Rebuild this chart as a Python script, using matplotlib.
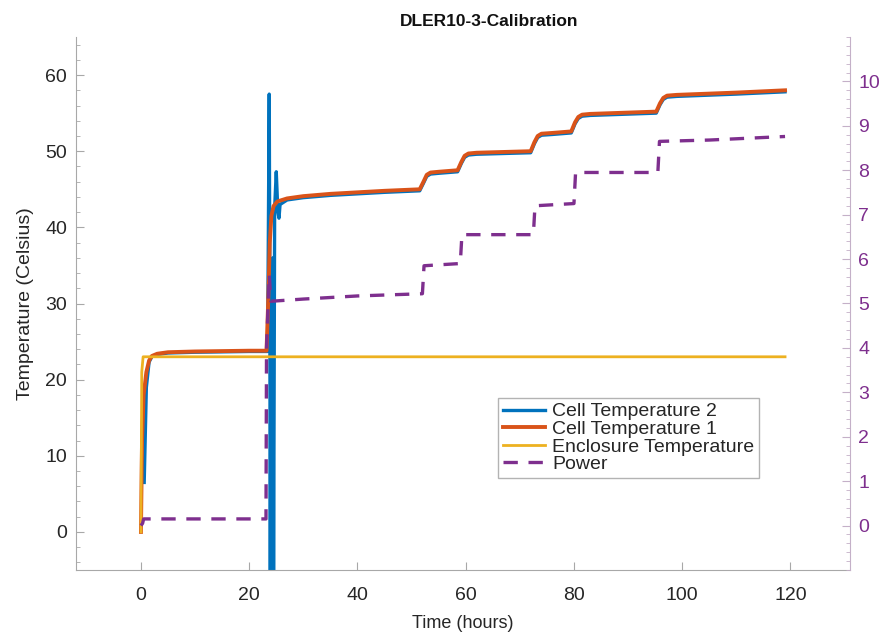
import numpy as np
import matplotlib
matplotlib.use("Agg")
import matplotlib.pyplot as plt
from matplotlib.ticker import MultipleLocator

plt.rcParams['font.family'] = ['Liberation Sans', 'DejaVu Sans']

# Cell Temperature 1 (left axis)
t_cell1 = [0, 0.2, 0.5, 1, 1.5, 2, 3, 5, 10, 20, 23.2, 23.5, 23.8, 24.1, 24.5, 25.2, 27, 30, 35, 40, 45,
           51.5, 52.2, 52.8, 53.5, 55, 58.5, 59.2, 59.8, 60.5, 62, 72, 72.7, 73.3, 74, 76,
           79.5, 80.2, 80.8, 81.5, 83, 95.2, 95.9, 96.5, 97.2, 99, 110, 119]
cell1 = [0, 12, 18, 21, 22.5, 23.1, 23.4, 23.6, 23.7, 23.8, 23.8, 30, 38, 41.5, 42.8, 43.4, 43.8, 44.1, 44.4, 44.6, 44.8,
         45.0, 46.0, 46.9, 47.2, 47.3, 47.5, 48.6, 49.4, 49.7, 49.8, 50.0, 51.2, 52.0, 52.3, 52.4,
         52.6, 53.8, 54.5, 54.8, 54.9, 55.2, 56.3, 57.0, 57.3, 57.4, 57.7, 58.0]

# Cell Temperature 2 (left axis)
t_cell2 = [0.6, 1.0, 1.5, 2, 3, 5, 10, 20, 23.4, 23.7, 23.8, 23.9, 24.0, 24.1, 24.2, 24.3, 24.4, 24.5,
           24.7, 25.0, 25.3, 25.5, 25.7, 27, 30, 35, 40, 45,
           51.5, 52.2, 52.8, 53.5, 55, 58.5, 59.2, 59.8, 60.5, 62, 72, 72.7, 73.3, 74, 76,
           79.5, 80.2, 80.8, 81.5, 83, 95.2, 95.9, 96.5, 97.2, 99, 110, 119]
cell2 = [6.5, 19, 22.3, 23.0, 23.3, 23.5, 23.6, 23.7, 23.7, 57.5, 35, -8, 30, -8, 33, -8, 36, -8,
         42.5, 47.3, 42, 41.2, 43.0, 43.6, 43.9, 44.2, 44.4, 44.6,
         44.8, 45.8, 46.7, 47.0, 47.1, 47.3, 48.4, 49.2, 49.5, 49.6, 49.8, 51.0, 51.8, 52.1, 52.2,
         52.4, 53.6, 54.3, 54.6, 54.7, 55.0, 56.1, 56.8, 57.1, 57.2, 57.5, 57.8]

# Enclosure Temperature (left axis)
t_encl = [0, 0.15, 0.4, 119]
encl = [0, 21, 23.0, 23.0]

# Power (right axis)
t_power = [0, 0.3, 0.5, 23.1, 23.2, 23.7, 24.0, 30, 40, 52.0, 52.3, 59.0, 59.3, 72.5, 72.8, 80.0, 80.3,
           95.5, 95.8, 105, 119]
power = [0, 0.05, 0.15, 0.15, 4.0, 5.65, 5.05, 5.1, 5.17, 5.22, 5.85, 5.9, 6.55, 6.55, 7.2, 7.25, 7.95,
         7.95, 8.65, 8.68, 8.76]

blue = '#0072BD'
orange = '#D95319'
yellow = '#EDB120'
purple = '#7E2F8E'
spine_gray = '#a8a8a8'
text_gray = '#262626'

fig = plt.figure(figsize=(8.85, 6.35), dpi=100)
ax = fig.add_axes([76 / 885, 1 - 570 / 635, (850 - 76) / 885, (570 - 37) / 635])
ax2 = ax.twinx()

l2, = ax.plot(t_cell2, cell2, color=blue, lw=2.4, label='Cell Temperature 2')
l1, = ax.plot(t_cell1, cell1, color=orange, lw=2.8, label='Cell Temperature 1')
l3, = ax.plot(t_encl, encl, color=yellow, lw=2.0, label='Enclosure Temperature')
l4, = ax2.plot(t_power, power, color=purple, lw=2.4, ls=(0, (4.3, 3.2)), label='Power')

ax.set_xlim(-12, 131)
ax.set_ylim(-5, 65)
ax2.set_ylim(-1, 11)

ax.set_xticks([0, 20, 40, 60, 80, 100, 120])
ax.set_yticks([0, 10, 20, 30, 40, 50, 60])
ax.yaxis.set_minor_locator(MultipleLocator(2))
ax2.set_yticks(range(0, 11))
ax2.yaxis.set_minor_locator(MultipleLocator(0.2))

for a in (ax, ax2):
    a.spines['top'].set_visible(False)
ax.spines['right'].set_visible(False)
ax2.spines['left'].set_visible(False)
ax2.spines['bottom'].set_visible(False)
ax.spines['left'].set_color(spine_gray)
ax.spines['bottom'].set_color(spine_gray)
ax2.spines['right'].set_color('#c4b0c8')

ax.tick_params(axis='both', which='both', direction='in', colors=spine_gray, labelcolor=text_gray,
               labelsize=14)
ax.tick_params(axis='y', which='major', length=6, pad=6.5)
ax.tick_params(axis='y', which='minor', length=3)
ax.tick_params(axis='x', which='major', length=6, pad=12)
ax2.tick_params(axis='y', which='both', direction='in', colors='#c4b0c8', labelcolor=purple, labelsize=14)
ax2.tick_params(axis='y', which='major', length=6, pad=6)
ax2.tick_params(axis='y', which='minor', length=3)

ax.set_xlabel('Time (hours)', fontsize=13, color=text_gray, labelpad=8)
ax.set_ylabel('Temperature (Celsius)', fontsize=14, color=text_gray, labelpad=8)
ax.set_title('DLER10-3-Calibration', fontsize=12.5, fontweight='bold', color='#111111', pad=8,
             x=0.534)

leg = ax.legend(handles=[l2, l1, l3, l4], loc='upper left', bbox_to_anchor=(0.545, 0.323),
                fontsize=14, frameon=True, fancybox=False, handlelength=2.2, handletextpad=0.35,
                labelspacing=0.0, borderpad=0.25, borderaxespad=0)
leg.get_frame().set_edgecolor('#a0a0a0')
leg.get_frame().set_linewidth(1.0)
for txt in leg.get_texts():
    txt.set_color(text_gray)

fig.savefig('out.png', dpi=100)
